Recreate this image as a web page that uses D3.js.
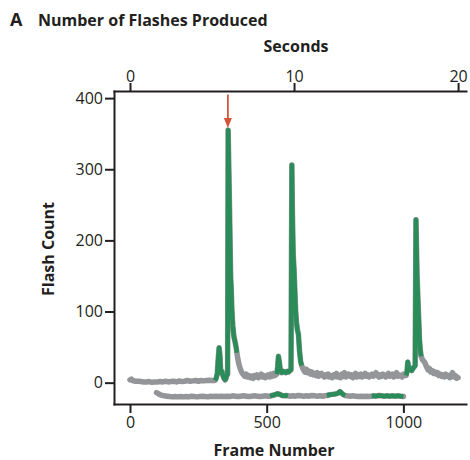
<!DOCTYPE html>
<html>
<head>
<meta charset="utf-8">
<script src="https://cdn.jsdelivr.net/npm/d3@7"></script>
<style>
body { margin: 0; background: #fff; }
svg text { font-family: "Open Sans", "Noto Sans", sans-serif; fill: #231f20; }
.axis path, .axis line { stroke: #231f20; stroke-width: 2; }
.axis text { font-size: 16px; }
.label { font-weight: 700; font-size: 16px; }
</style>
</head>
<body>
<svg></svg>
<script>

var screen = {width: 470, height: 460}
var plot = {top: 91, right: 466, bottom: 404, left: 114}

// flash counts
var frames = [0, 5, 10, 20, 30, 40, 50, 60, 70, 80, 90, 100, 110, 120, 130, 140, 150, 160, 170, 180, 190, 200, 210, 220, 230, 240, 250, 260, 270, 280, 290, 300, 311,
    315, 319, 323, 326, 329, 332, 336, 340, 344, 348, 351, 354, 357, 359, 362, 364, 366, 368, 370, 373, 376, 380, 384, 388, 391,
    395, 399, 403, 407, 411, 415, 420, 425, 430, 435, 440, 445, 450, 455, 460, 465, 470, 475, 480, 485, 490, 495, 500, 505, 510, 515, 520, 525, 530, 537,
    540, 543, 546, 550, 555, 560, 565, 570, 575, 580, 585, 589, 592, 594, 597, 600, 603, 606, 609, 612, 616, 620, 624, 628,
    632, 636, 640, 645, 650, 655, 660, 665, 670, 675, 680, 685, 690, 695, 700, 705, 710, 715, 720, 725, 730, 735, 740, 745, 750, 755, 760, 765, 770, 775, 780, 785, 790, 795,
    800, 805, 810, 815, 820, 825, 830, 835, 840, 845, 850, 855, 860, 865, 870, 875, 880, 885, 890, 895, 900, 905, 910, 915, 920, 925, 930, 935, 940, 945, 950, 955, 960, 965, 970, 975, 980, 985, 990, 995, 1000, 1005, 1010,
    1013, 1016, 1019, 1023, 1027, 1031, 1035, 1039, 1043, 1046, 1048, 1050, 1053, 1056, 1059, 1062, 1065,
    1070, 1075, 1080, 1085, 1090, 1095, 1100, 1105, 1110, 1115, 1120, 1125, 1130, 1135, 1140, 1145, 1150, 1155, 1160, 1165, 1170, 1175, 1180, 1185, 1190, 1195, 1200]
var counts = [4, 5, 3, 2, 2, 1.5, 1, 1, 1.5, 0.5, 1, 1, 1.5, 1, 2, 1, 1.5, 2, 1, 2.5, 1.5, 2, 3, 2, 2.5, 3, 2, 3, 2.5, 3, 3.5, 3, 3,
    6, 12, 35, 49, 38, 14, 16, 10, 6, 4, 6, 10, 12, 355, 290, 246, 200, 150, 135, 100, 80, 65, 58, 50, 42,
    32, 25, 20, 16, 13, 11, 9, 12, 8, 10, 7, 9, 6, 10, 8, 11, 7, 9, 12, 8, 10, 7, 9, 11, 8, 12, 9, 13, 10, 12,
    22, 37, 30, 17, 14, 16, 15, 14, 16, 15, 17, 18, 306, 240, 180, 160, 130, 100, 85, 75, 68, 45, 30, 24,
    20, 17, 15, 19, 14, 16, 12, 15, 11, 13, 10, 14, 9, 12, 13, 10, 8, 11, 9, 12, 8, 10, 7, 11, 9, 13, 8, 10, 7, 12, 9, 14, 8, 10,
    12, 9, 11, 7, 10, 13, 8, 11, 9, 12, 8, 10, 13, 9, 11, 8, 10, 12, 9, 11, 14, 10, 8, 11, 9, 12, 10, 8, 11, 13, 9, 10, 12, 8, 10, 14, 9, 11, 10, 8, 12, 10, 10,
    15, 29, 22, 18, 20, 17, 20, 22, 24, 229, 190, 151, 120, 90, 60, 45, 37,
    32, 30, 27, 22, 18, 20, 15, 17, 13, 15, 12, 14, 10, 12, 9, 11, 8, 12, 9, 10, 7, 11, 14, 8, 10, 6, 7]

// second (lower) trace
var lowFrames = [97, 102, 108, 115, 125, 135, 145, 155, 165, 175, 185, 195, 205, 215, 225, 235, 245, 255, 265, 275, 285, 295, 305, 315, 325, 335, 345, 355, 365, 375, 385, 395,
    405, 415, 425, 435, 445, 455, 465, 475, 485, 495, 505, 512, 520, 530, 540, 548, 556, 565, 572, 578, 585, 595, 605, 615, 625, 635, 645, 655, 665, 675, 685, 695, 705, 712, 720,
    730, 740, 750, 760, 768, 775, 781, 787, 795, 805, 815, 825, 835, 845, 855, 865, 875, 884, 892, 900, 910, 920, 930, 940, 950, 960, 970, 980, 990, 1000]
var lowCounts = [-14, -15, -16.5, -17.5, -18.5, -19, -19.5, -20, -19.5, -20, -19.5, -20, -19.5, -20, -19, -19.5, -20, -19.5, -19, -19.5, -20, -19, -19.5, -19, -19.5, -19, -19.5, -19, -19.5, -18.5, -19, -19.5,
    -19, -18.5, -19, -19.5, -19, -18.5, -19, -19.5, -19, -18.5, -19, -19, -18, -17, -15.5, -16.5, -18, -18.5, -18, -18.5, -19, -18.5, -19, -18, -18.5, -19, -18.5, -19, -18, -18.5, -19, -18.5, -19, -18.5, -18,
    -17, -16.5, -16, -15, -12.5, -15, -17, -18, -18.5, -19, -18.5, -19, -19.5, -19, -19.5, -19, -19.5, -19, -18.5, -19, -18, -18.5, -19, -18.5, -19, -18.5, -19, -18.5, -19, -19.5]

// frame ranges drawn in green
var flashRanges = [[311, 391], [537, 628], [1010, 1065]]
var lowFlashRanges = [[512, 578], [720, 787], [884, 1000]]

var yTicks = [0, 100, 200, 300, 400]
var frameTicks = [0, 500, 1000]
var secondTicks = [0, 10, 20]
var fps = 60

var arrow = {frame: 358, from: 405, to: 358}

var svg = d3.select("svg")
    .attr("width", screen.width)
    .attr("height", screen.height)

var xScale = d3.scaleLinear()
    .domain([-58.5, 1229])
    .range([plot.left, plot.right])

var secScale = d3.scaleLinear()
    .domain([-58.5 / fps, 1229 / fps])
    .range([plot.left, plot.right])

var yScale = d3.scaleLinear()
    .domain([-30, 410])
    .range([plot.bottom, plot.top])

var main = frames.map(function(f, i){ return {frame: f, count: counts[i]} })
var low = lowFrames.map(function(f, i){ return {frame: f, count: lowCounts[i]} })

var line = d3.line()
    .x(function(d){ return xScale(d.frame) })
    .y(function(d){ return yScale(d.count) })

var drawTrace = function(data, ranges)
{
    svg.append("path")
        .datum(data)
        .attr("d", line)
        .attr("fill", "none")
        .attr("stroke", "#939598")
        .attr("stroke-width", 5.5)
        .attr("stroke-linejoin", "round")
        .attr("stroke-linecap", "round")

    ranges.forEach(function(r)
    {
        var seg = data.filter(function(d){ return d.frame >= r[0] && d.frame <= r[1] })
        svg.append("path")
            .datum(seg)
            .attr("d", line)
            .attr("fill", "none")
            .attr("stroke", "#2a8c58")
            .attr("stroke-width", 4.5)
            .attr("stroke-linejoin", "round")
    })
}

drawTrace(main, flashRanges)
drawTrace(low, lowFlashRanges)

// axes
svg.append("g")
    .attr("class", "axis")
    .attr("transform", "translate(" + plot.left + ",0)")
    .call(d3.axisLeft(yScale).tickValues(yTicks).tickSize(9).tickPadding(2).tickSizeOuter(0))

svg.append("g")
    .attr("class", "axis")
    .attr("transform", "translate(0," + plot.bottom + ")")
    .call(d3.axisBottom(xScale).tickValues(frameTicks).tickFormat(d3.format("d")).tickSize(9).tickPadding(4).tickSizeOuter(0))

svg.append("g")
    .attr("class", "axis")
    .attr("transform", "translate(0," + plot.top + ")")
    .call(d3.axisTop(secScale).tickValues(secondTicks).tickSize(8).tickPadding(1).tickSizeOuter(0))

svg.selectAll(".axis .domain").attr("stroke-linecap", "square")

// red arrow
svg.append("line")
    .attr("x1", xScale(arrow.frame)).attr("x2", xScale(arrow.frame))
    .attr("y1", yScale(arrow.from)).attr("y2", yScale(arrow.to) - 8)
    .attr("stroke", "#d2553a")
    .attr("stroke-width", 1.8)

svg.append("path")
    .attr("d", d3.line()([[xScale(arrow.frame) - 4, yScale(arrow.to) - 10], [xScale(arrow.frame) + 4, yScale(arrow.to) - 10], [xScale(arrow.frame), yScale(arrow.to)]]) + "Z")
    .attr("fill", "#d2553a")

// labels
svg.append("text")
    .attr("class", "label")
    .attr("x", 10).attr("y", 26)
    .style("font-size", "18px")
    .text("A")

svg.append("text")
    .attr("class", "label")
    .attr("x", 38).attr("y", 26)
    .text("Number of Flashes Produced")

svg.append("text")
    .attr("class", "label")
    .attr("x", 296).attr("y", 52)
    .attr("text-anchor", "middle")
    .text("Seconds")

svg.append("text")
    .attr("class", "label")
    .attr("transform", "translate(54," + 249 + ") rotate(-90)")
    .attr("text-anchor", "middle")
    .text("Flash Count")

svg.append("text")
    .attr("class", "label")
    .attr("x", 274).attr("y", 456)
    .attr("text-anchor", "middle")
    .text("Frame Number")

</script>
</body>
</html>
